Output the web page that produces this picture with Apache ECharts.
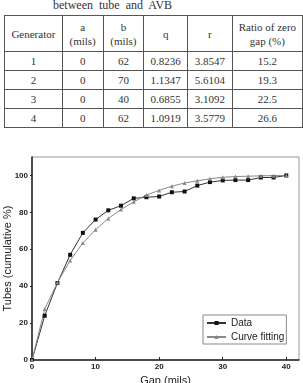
<!DOCTYPE html>
<html>
<head>
<meta charset="utf-8">
<script src="https://cdn.jsdelivr.net/npm/echarts@6/dist/echarts.min.js"></script>
<style>
  html, body { margin: 0; padding: 0; background: #fff; }
  body { width: 303px; height: 383px; position: relative; overflow: hidden; }
  .caption {
    position: absolute; left: 53px; top: -2px;
    font: 12px "Liberation Serif", serif; color: #333; word-spacing: 3px;
  }
  table {
    position: absolute; left: 4px; top: 15px;
    border-collapse: collapse; table-layout: fixed;
    font: 11px "Liberation Serif", serif; color: #333;
  }
  td, th {
    border: 1px solid #555; text-align: center; padding: 0;
    font-weight: normal; line-height: 14px;
  }
  th { height: 35px; }
  td { height: 18px; }
  #chart { position: absolute; left: 0; top: 140px; width: 303px; height: 243px; }
</style>
</head>
<body>
<div class="caption">between tube and AVB</div>
<table id="tbl"></table>
<div id="chart"></div>
<script>
// table contents
const tableHead = ['Generator', 'a<br>(mils)', 'b<br>(mils)', 'q', 'r', 'Ratio of zero<br>gap (%)'];
const colWidths = [57, 40, 40, 43, 44, 70];
const generators = ['1', '2', '3', '4'];
const aVals = ['0', '0', '0', '0'];
const bVals = ['62', '70', '40', '62'];
const qVals = ['0.8236', '1.1347', '0.6855', '1.0919'];
const rVals = ['3.8547', '5.6104', '3.1092', '3.5779'];
const zeroRatio = ['15.2', '19.3', '22.5', '26.6'];

// chart data
const gapMils = [0, 2, 4, 6, 8, 10, 12, 14, 16, 18, 20, 22, 24, 26, 28, 30, 32, 34, 36, 38, 40];
const dataPct = [0, 24.0, 41.7, 57.0, 68.9, 76.1, 81.1, 83.6, 87.6, 88.2, 88.6, 90.9, 91.3, 94.5, 96.4, 97.3, 97.5, 97.5, 98.9, 98.9, 100];
const fitPct = [0, 27.6, 42.0, 53.9, 63.4, 70.6, 76.7, 81.5, 85.7, 89.4, 91.9, 94.2, 95.9, 97.1, 98.2, 99.0, 99.4, 99.6, 99.8, 99.9, 100];
const xTicks = [0, 10, 20, 30, 40];
const yTicks = [0, 20, 40, 60, 80, 100];

let html = '<tr>' + tableHead.map((h, i) => `<th style="width:${colWidths[i]}px">${h}</th>`).join('') + '</tr>';
generators.forEach((g, i) => {
  html += '<tr>' + [g, aVals[i], bVals[i], qVals[i], rVals[i], zeroRatio[i]].map((v) => `<td>${v}</td>`).join('') + '</tr>';
});
document.getElementById('tbl').innerHTML = html;

const chart = echarts.init(document.getElementById('chart'));
const tickFont = { fontFamily: 'Liberation Sans', fontSize: 8, fontWeight: 'bold', color: '#222' };

chart.setOption({
  animation: false,
  grid: {
    left: 32, right: 4, top: 17, bottom: 23,
    outerBoundsMode: 'none', containLabel: false,
    show: true, borderColor: '#999', borderWidth: 1,
  },
  xAxis: {
    type: 'value', min: 0, max: 42, interval: 10,
    name: 'Gap (mils)', nameLocation: 'middle', nameGap: 15,
    nameTextStyle: { fontFamily: 'Liberation Sans', fontSize: 11, color: '#222' },
    axisLine: { lineStyle: { color: '#222', width: 1.5 } },
    axisTick: { inside: true, length: 3, customValues: xTicks, lineStyle: { color: '#222' } },
    axisLabel: { ...tickFont, margin: 3, customValues: xTicks },
    splitLine: { show: false },
  },
  yAxis: {
    type: 'value', min: 0, max: 110, interval: 20,
    name: 'Tubes (cumulative %)', nameLocation: 'middle', nameGap: 19,
    nameMoveOverlap: false,
    nameTextStyle: { fontFamily: 'Liberation Sans', fontSize: 11, color: '#222' },
    axisLine: { show: true, lineStyle: { color: '#222', width: 1.5 } },
    axisTick: { show: true, inside: false, length: 2, customValues: yTicks, lineStyle: { color: '#222' } },
    axisLabel: { ...tickFont, margin: 4, customValues: yTicks },
    splitLine: { show: false },
  },
  legend: {
    orient: 'vertical', left: 203, top: 175,
    borderColor: '#888', borderWidth: 1, padding: [3, 2, 2, 3],
    itemGap: 4, itemWidth: 19, itemHeight: 5,
    textStyle: { fontFamily: 'Liberation Sans', fontSize: 10, color: '#222' },
    data: ['Data', 'Curve fitting'],
  },
  series: [
    {
      name: 'Data', type: 'line',
      data: gapMils.map((x, i) => [x, dataPct[i]]),
      symbol: 'rect', symbolSize: 4,
      lineStyle: { color: '#333', width: 1 },
      itemStyle: { color: '#111' },
    },
    {
      name: 'Curve fitting', type: 'line',
      data: gapMils.map((x, i) => [x, fitPct[i]]),
      symbol: 'triangle', symbolSize: 4,
      lineStyle: { color: '#888', width: 1 },
      itemStyle: { color: '#888' },
    },
  ],
});
</script>
</body>
</html>
